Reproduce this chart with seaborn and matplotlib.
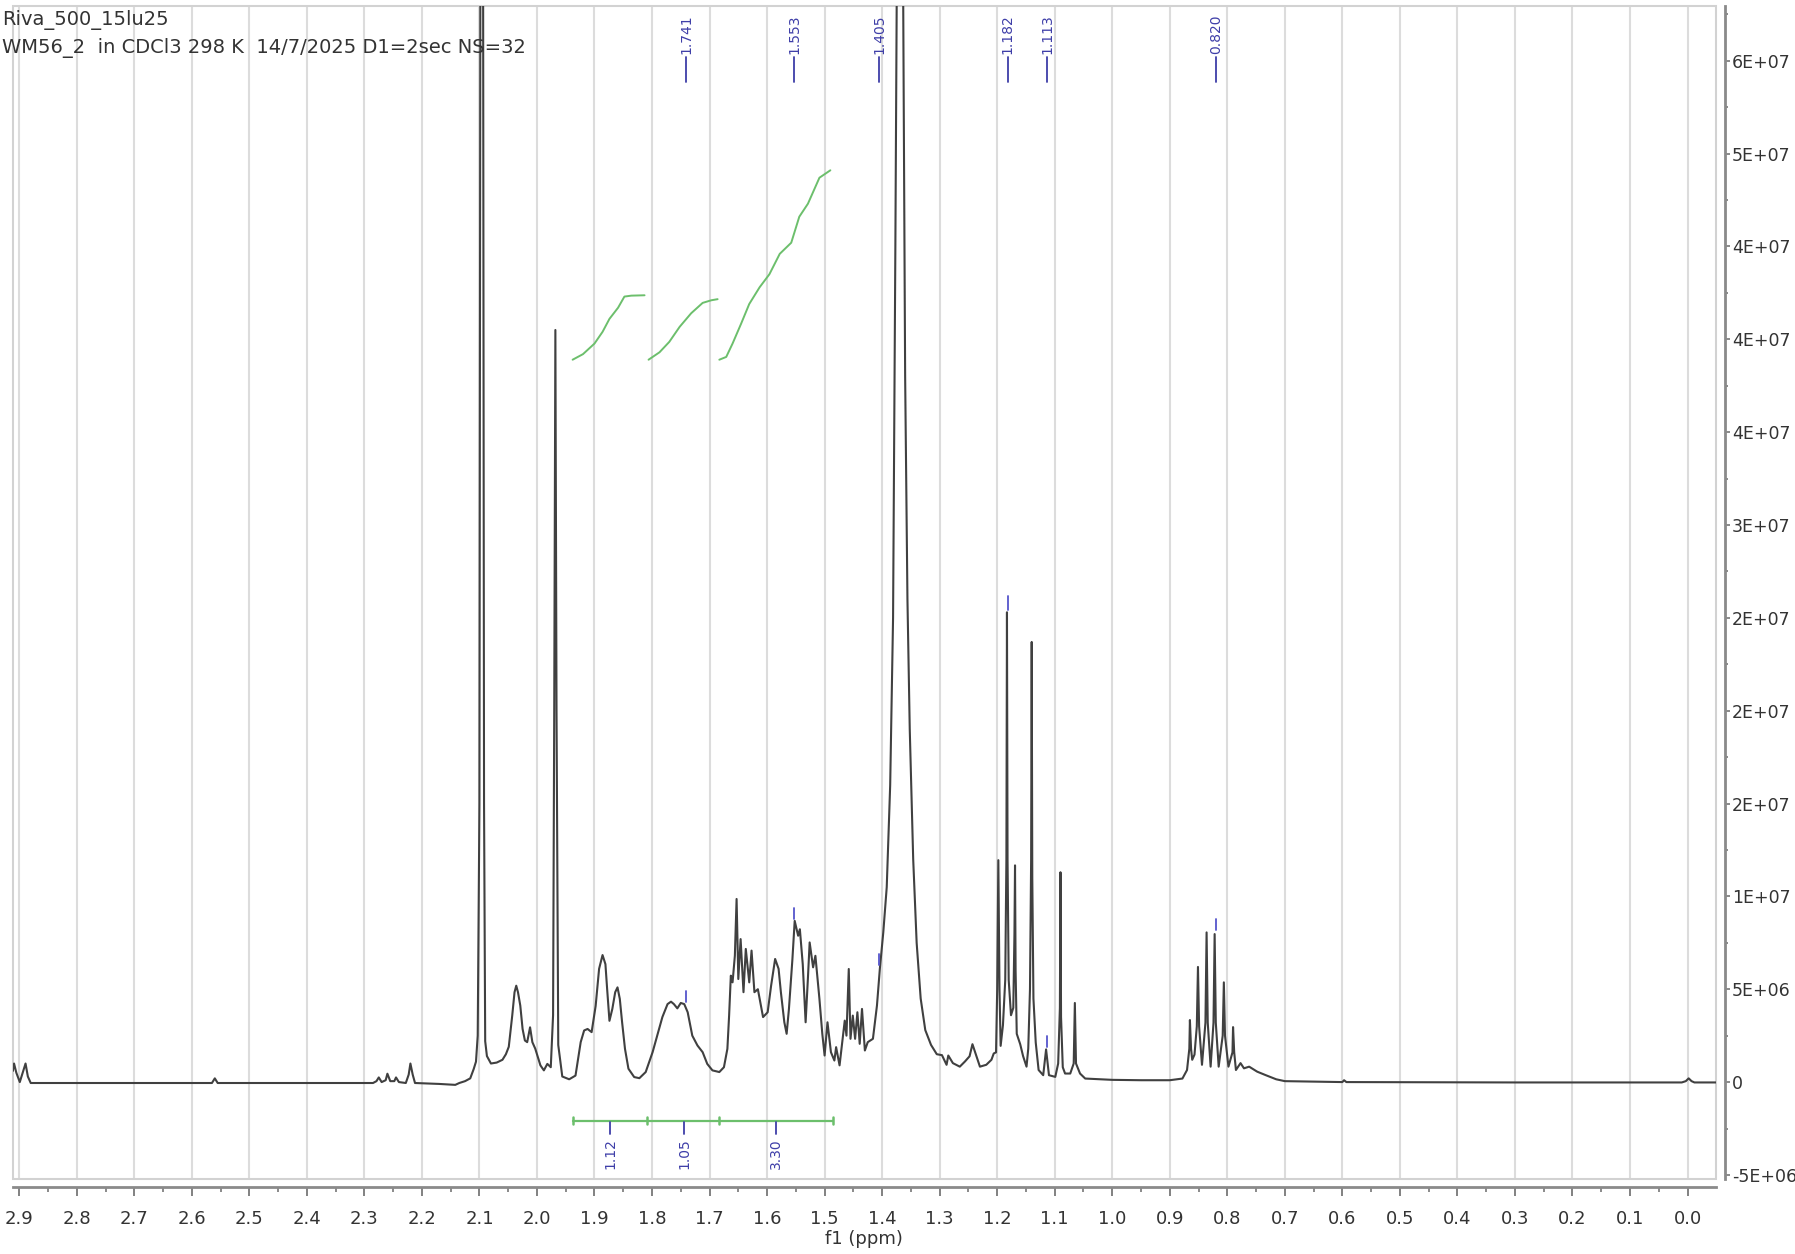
import numpy as np
import pandas as pd
import matplotlib
matplotlib.use('Agg')
import matplotlib.pyplot as plt
from matplotlib.patches import Rectangle
from matplotlib.ticker import MultipleLocator, FuncFormatter
import seaborn as sns

# header text of the spectrum
header_lines = ['Riva_500_15lu25',
                'WM56_2  in CDCl3 298 K  14/7/2025 D1=2sec NS=32']

# 1H trace: chemical shift (ppm) and intensity (x 1e6)
spec_ppm = [2.911, 2.909, 2.905, 2.899, 2.894, 2.889, 2.885, 2.880,
            2.700, 2.565, 2.560, 2.555, 2.400, 2.285,
            2.279, 2.275, 2.270, 2.263, 2.260, 2.255, 2.248, 2.245, 2.240,
            2.228, 2.223, 2.220, 2.216, 2.212, 2.170, 2.142, 2.135, 2.125,
            2.116, 2.110, 2.106, 2.103,
            2.100, 2.098, 2.096, 2.094, 2.092, 2.090, 2.087, 2.080, 2.070,
            2.060, 2.054, 2.049, 2.043, 2.039, 2.036, 2.033, 2.029, 2.025,
            2.021, 2.017, 2.012, 2.008, 2.003, 1.994, 1.988, 1.982, 1.976,
            1.972, 1.970, 1.968, 1.966, 1.963, 1.956, 1.944, 1.933, 1.924,
            1.918, 1.912, 1.905, 1.898, 1.892, 1.886, 1.881, 1.878, 1.874,
            1.869, 1.864, 1.860, 1.856, 1.852, 1.847, 1.841, 1.831, 1.822,
            1.811, 1.799, 1.791, 1.782, 1.773, 1.767, 1.762, 1.756, 1.750,
            1.744, 1.738, 1.730, 1.721, 1.712, 1.704, 1.695, 1.683, 1.675,
            1.669, 1.666, 1.663, 1.660, 1.656, 1.653, 1.650, 1.646, 1.641,
            1.637, 1.631, 1.627, 1.622, 1.616, 1.607, 1.599, 1.593, 1.586,
            1.580, 1.576, 1.570, 1.566, 1.562, 1.556, 1.552, 1.546, 1.543,
            1.538, 1.533, 1.529, 1.526, 1.520, 1.516, 1.509, 1.504, 1.500,
            1.495, 1.489, 1.483, 1.480, 1.474, 1.465, 1.462, 1.458, 1.455,
            1.451, 1.447, 1.443, 1.439, 1.435, 1.430, 1.425, 1.416, 1.409,
            1.404, 1.398, 1.392, 1.386, 1.381, 1.377, 1.374, 1.369, 1.364,
            1.360, 1.356, 1.352, 1.346, 1.340, 1.333, 1.325, 1.315, 1.305,
            1.296, 1.288, 1.285, 1.277, 1.265, 1.256, 1.248, 1.243, 1.236,
            1.230, 1.219, 1.210, 1.206, 1.202, 1.200, 1.198, 1.196, 1.194,
            1.190, 1.186, 1.184, 1.183, 1.182, 1.180, 1.176, 1.172, 1.170,
            1.169, 1.168, 1.166, 1.160, 1.155, 1.149, 1.146, 1.143, 1.141,
            1.140, 1.139, 1.137, 1.133, 1.128, 1.120, 1.115, 1.110, 1.099,
            1.094, 1.091, 1.090, 1.089, 1.086, 1.082, 1.073, 1.067, 1.065,
            1.063, 1.056, 1.047, 1.000, 0.950, 0.900, 0.878, 0.870, 0.866,
            0.865, 0.863, 0.861, 0.857, 0.853, 0.851, 0.849, 0.844, 0.838,
            0.836, 0.834, 0.829, 0.824, 0.822, 0.820, 0.815, 0.808, 0.806,
            0.804, 0.798, 0.791, 0.790, 0.788, 0.785, 0.777, 0.771, 0.762,
            0.748, 0.733, 0.715, 0.700,
            0.600, 0.597, 0.593, 0.300, 0.010, 0.003, -0.002, -0.007, -0.012,
            -0.050]
spec_int = [0.6, 1.0, 0.5, 0.0, 0.5, 1.0, 0.3, -0.05,
            -0.05, -0.05, 0.2, -0.05, -0.05, -0.05,
            0.05, 0.25, 0.0, 0.1, 0.45, 0.05, 0.05, 0.25, 0.0,
            -0.05, 0.4, 1.0, 0.4, -0.05, -0.1, -0.15, -0.05, 0.05,
            0.2, 0.7, 1.1, 2.5,
            15.0, 70.0, 100.0, 70.0, 15.0, 2.2, 1.4, 1.0, 1.05,
            1.2, 1.5, 1.9, 3.58, 4.84, 5.19, 4.84, 4.12, 2.86,
            2.24, 2.15, 2.95, 2.15, 1.8, 0.9, 0.63, 0.98, 0.8,
            3.6, 20.0, 40.5, 20.0, 2.0, 0.3, 0.15, 0.35, 2.15,
            2.78, 2.86, 2.69, 4.1, 6.1, 6.84, 6.35, 5.0, 3.3,
            3.94, 4.84, 5.1, 4.48, 3.22, 1.79, 0.72, 0.27, 0.21,
            0.54, 1.61, 2.5, 3.5, 4.2, 4.33, 4.2, 3.97, 4.26,
            4.2, 3.76, 2.5, 1.97, 1.61, 0.98, 0.63, 0.54, 0.8,
            1.79, 3.58, 5.73, 5.37, 6.8, 9.86, 5.55, 7.7, 4.84,
            7.17, 5.37, 7.08, 4.84, 5.0, 3.5, 3.76, 5.19, 6.63,
            6.1, 4.84, 3.22, 2.6, 3.94, 6.6, 8.68, 7.88, 8.23,
            6.35, 3.22, 5.6, 7.52, 6.18, 6.8, 4.48, 2.6, 1.43,
            3.22, 1.61, 1.16, 1.88, 0.9, 3.31, 2.5, 6.09, 2.33,
            3.58, 2.33, 3.76, 2.06, 3.94, 1.7, 2.15, 2.33, 4.12,
            6.09, 8.06, 10.5, 16.0, 25.0, 45.0, 62.0, 120.0, 62.0,
            38.0, 26.0, 19.0, 12.0, 7.5, 4.5, 2.8, 2.0, 1.5,
            1.45, 0.93, 1.43, 1.02, 0.83, 1.11, 1.39, 2.04, 1.39,
            0.83, 0.93, 1.2, 1.54, 1.6, 5.0, 11.95, 5.0, 1.95,
            3.06, 5.5, 12.0, 25.3, 12.0, 5.5, 3.6, 4.0, 8.0,
            11.67, 6.0, 2.6, 2.04, 1.4, 0.83, 1.8, 5.0, 12.0,
            23.7, 11.0, 4.5, 2.13, 0.65, 0.37, 1.76, 0.37, 0.28,
            1.0, 4.0, 11.3, 3.5, 0.8, 0.46, 0.46, 1.0, 4.26,
            1.0, 0.46, 0.19, 0.12, 0.1, 0.1, 0.19, 0.65, 1.8,
            3.34, 1.8, 1.2, 1.48, 3.0, 6.2, 3.0, 0.93, 3.2,
            8.06, 3.2, 0.83, 3.2, 7.97, 3.2, 0.83, 2.5, 5.37,
            2.5, 0.83, 1.6, 2.96, 1.6, 0.65, 1.02, 0.74, 0.83,
            0.56, 0.37, 0.15, 0.05,
            0.0, 0.1, 0.0, -0.02, -0.02, 0.05, 0.2, 0.05, -0.02,
            -0.02]

# peak picking
peak_ppm = [1.741, 1.553, 1.405, 1.182, 1.113, 0.820]
peak_text = ['1.741', '1.553', '1.405', '1.182', '1.113', '0.820']
peak_mark_lo = [4.3, 8.8, 6.3, 25.4, 1.9, 8.2]
peak_mark_hi = [4.9, 9.4, 6.9, 26.2, 2.5, 8.8]

# integration regions and values
int_edges = [1.938, 1.809, 1.683, 1.486]
int_label_ppm = [1.873, 1.744, 1.585]
int_text = ['1.12', '1.05', '3.30']

# integral curves (ppm, height x 1e6)
curve1_ppm = [1.938, 1.920, 1.900, 1.886, 1.874, 1.859, 1.848, 1.836, 1.813]
curve1_val = [38.9, 39.2, 39.77, 40.4, 41.1, 41.7, 42.3, 42.35, 42.37]
curve2_ppm = [1.806, 1.787, 1.770, 1.752, 1.732, 1.712, 1.697, 1.686]
curve2_val = [38.9, 39.3, 39.86, 40.67, 41.4, 41.96, 42.1, 42.16]
curve3_ppm = [1.683, 1.671, 1.660, 1.645, 1.631, 1.613, 1.596, 1.578,
              1.558, 1.544, 1.529, 1.509, 1.490]
curve3_val = [38.9, 39.05, 39.77, 40.85, 41.9, 42.8, 43.5, 44.6,
              45.2, 46.6, 47.3, 48.7, 49.1]

M = 1e6
blue = '#3e3ea8'
green = '#6cbf6c'

sns.set_theme(style='white')
plt.rcParams['font.family'] = ['DejaVu Sans']

fig = plt.figure(figsize=(17.95, 12.54), dpi=100)
ax = fig.add_axes([0.00702, 0.0598, 0.949, 0.9356])

spec = pd.DataFrame({'ppm': spec_ppm, 'intensity': np.array(spec_int) * M})
sns.lineplot(data=spec, x='ppm', y='intensity', estimator=None, sort=False,
             color='#404040', lw=1.5, ax=ax)

# integral curves
for cx, cy in [(curve1_ppm, curve1_val), (curve2_ppm, curve2_val),
               (curve3_ppm, curve3_val)]:
    ax.plot(cx, np.array(cy) * M, color=green, lw=1.4)

# integral bar with edge ticks
ax.plot([int_edges[0], int_edges[-1]], [-2.08 * M, -2.08 * M], color=green, lw=1.6)
for e in int_edges:
    ax.plot([e, e], [-1.9 * M, -2.26 * M], color=green, lw=1.8)
for px, t in zip(int_label_ppm, int_text):
    ax.plot([px, px], [-2.15 * M, -2.8 * M], color=blue, lw=1.3)
    ax.text(px, -3.02 * M, t, rotation=90, ha='center', va='top',
            color=blue, fontsize=10)

# peak labels at the top
for px, t, lo, hi in zip(peak_ppm, peak_text, peak_mark_lo, peak_mark_hi):
    ax.plot([px, px], [lo * M, hi * M], color='#5555cc', lw=1.3)
    ax.plot([px, px], [53.85 * M, 55.2 * M], color=blue, lw=1.3)
    ax.text(px, 55.35 * M, t, rotation=90, ha='center', va='bottom',
            color=blue, fontsize=10)

ax.set_xlim(2.9115, -0.0496)
ax.set_ylim(-5.22 * M, 57.96 * M)

ax.xaxis.set_major_locator(MultipleLocator(0.1))
ax.xaxis.set_minor_locator(MultipleLocator(0.05))
ax.xaxis.set_major_formatter(FuncFormatter(lambda v, p: f'{abs(v):.1f}' if abs(v) < 1e-9 else f'{v:.1f}'))
ax.yaxis.set_major_locator(MultipleLocator(5 * M))
ax.yaxis.set_minor_locator(MultipleLocator(2.5 * M))
ax.yaxis.set_major_formatter(FuncFormatter(lambda v, p: '0' if abs(v) < 1 else '%.0E' % v))
ax.yaxis.tick_right()

ax.grid(True, axis='x', which='major', color='#dcdcdc', lw=1.5)
ax.set_axisbelow(True)

for side in ['left', 'top']:
    ax.spines[side].set_visible(False)
ax.spines['bottom'].set_position(('outward', 5.5))
ax.spines['right'].set_position(('outward', 6.5))
for side in ['bottom', 'right']:
    ax.spines[side].set_visible(True)
    ax.spines[side].set_color('#8a8a8a')
    ax.spines[side].set_linewidth(2)
ax.add_patch(Rectangle((0, 0), 1, 1, transform=ax.transAxes, fill=False,
                       ec='#d2d2d2', lw=1.5, clip_on=False))

ax.tick_params(axis='x', which='major', direction='out', length=6.5, width=1.3,
               color='#777777', labelsize=13, labelcolor='#333333', pad=10,
               bottom=True)
ax.tick_params(axis='x', which='minor', direction='out', length=3.6, width=1.2,
               color='#777777', bottom=True)
ax.tick_params(axis='y', which='major', direction='out', length=3.6, width=1.2,
               color='#777777', labelsize=12.5, labelcolor='#333333', pad=1.5,
               right=True, left=False)
ax.tick_params(axis='y', which='minor', direction='out', length=2.2, width=1.2,
               color='#777777', right=True, left=False)

ax.set_xlabel('f1 (ppm)', fontsize=13, color='#333333', labelpad=1.5)
ax.set_ylabel('')

fig.text(0.001, 1 - 20 / 1254, header_lines[0], fontsize=14, color='#333333',
         va='center', ha='left')
fig.text(0.001, 1 - 48 / 1254, header_lines[1], fontsize=14, color='#333333',
         va='center', ha='left')

fig.savefig('out.png', dpi=100)
